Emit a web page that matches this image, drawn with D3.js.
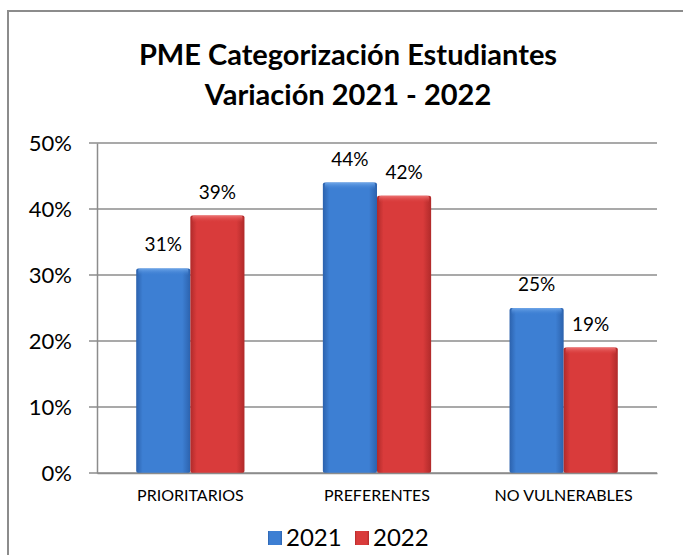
<!DOCTYPE html>
<html>
<head>
<meta charset="utf-8">
<script src="https://cdn.jsdelivr.net/npm/d3@7"></script>
<style>
  body { margin: 0; background: #fff; }
  svg { display: block; }
</style>
</head>
<body>
<div id="chart"></div>
<script>
var categories = ['PRIORITARIOS', 'PREFERENTES', 'NO VULNERABLES'];
var seriesNames = ['2021', '2022'];
var values2021 = [0.31, 0.44, 0.25];
var values2022 = [0.39, 0.42, 0.19];
var yTicks = [0, 0.1, 0.2, 0.3, 0.4, 0.5];
var titleLines = ['PME Categorización Estudiantes', 'Variación 2021 - 2022'];

var width = 683,
    height = 555,
    margin = {top: 143, right: 26, bottom: 82, left: 97},
    font = 'Lato, "Open Sans", sans-serif';

var colors = {
  '2021': {main: '#3d7fd3', dark: '#2c62ad', light: '#6fa6e8'},
  '2022': {main: '#d93b3b', dark: '#b02a2a', light: '#ec7272'}
};

var models = categories.map(function(c, i) {
  return {cat: c, '2021': values2021[i], '2022': values2022[i]};
});

var svg = d3.select('#chart').append('svg')
  .attr('width', width)
  .attr('height', height);

// gradients for the bevelled bars
var defs = svg.append('defs');
seriesNames.forEach(function(s) {
  var g = defs.append('linearGradient').attr('id', 'grad' + s)
    .attr('x1', 0).attr('x2', 1).attr('y1', 0).attr('y2', 0);
  g.append('stop').attr('offset', '0%').attr('stop-color', colors[s].dark);
  g.append('stop').attr('offset', '12%').attr('stop-color', colors[s].main);
  g.append('stop').attr('offset', '85%').attr('stop-color', colors[s].main);
  g.append('stop').attr('offset', '100%').attr('stop-color', colors[s].dark);
  var t = defs.append('linearGradient').attr('id', 'top' + s)
    .attr('x1', 0).attr('x2', 0).attr('y1', 0).attr('y2', 1);
  t.append('stop').attr('offset', '0%').attr('stop-color', colors[s].light);
  t.append('stop').attr('offset', '100%').attr('stop-color', colors[s].main).attr('stop-opacity', 0);
});

// outer frame
svg.append('rect')
  .attr('x', 8).attr('y', 11)
  .attr('width', width + 20).attr('height', height + 20)
  .attr('fill', 'none')
  .attr('stroke', '#8c8c8c')
  .attr('stroke-width', 2);

// title
svg.append('g').selectAll('text')
  .data(titleLines)
  .enter().append('text')
  .attr('x', 348)
  .attr('y', function(d, i) { return 65 + i * 40; })
  .attr('text-anchor', 'middle')
  .attr('font-family', font)
  .attr('font-weight', 'bold')
  .attr('font-size', '29px')
  .attr('fill', '#000')
  .text(function(d) { return d; });

var innerW = width - margin.left - margin.right,
    innerH = height - margin.top - margin.bottom;

var g = svg.append('g')
  .attr('transform', 'translate(' + margin.left + ',' + margin.top + ')');

var xScale0 = d3.scaleBand().domain(categories).range([0, innerW])
  .paddingInner(0.42).paddingOuter(0.21);
var xScale1 = d3.scaleBand().domain(seriesNames).range([0, xScale0.bandwidth()]);
var yScale = d3.scaleLinear().domain([0, 0.5]).range([innerH, 0]);

// gridlines
g.append('g').selectAll('line')
  .data(yTicks)
  .enter().append('line')
  .attr('x1', -8).attr('x2', innerW)
  .attr('y1', function(d) { return yScale(d); })
  .attr('y2', function(d) { return yScale(d); })
  .attr('stroke', '#8c8c8c')
  .attr('stroke-width', 1.5);

// y axis
var yAxis = d3.axisLeft(yScale).tickValues(yTicks)
  .tickFormat(d3.format('.0%')).tickSize(0).tickPadding(25);
var ya = g.append('g').call(yAxis);
ya.select('.domain').attr('stroke', '#8c8c8c').attr('stroke-width', 1.5);
ya.selectAll('text')
  .attr('font-family', font)
  .attr('font-size', '22px')
  .attr('fill', '#000');

// bars
var group = g.selectAll('.cat')
  .data(models)
  .enter().append('g')
  .attr('class', 'cat')
  .attr('transform', function(d) { return 'translate(' + xScale0(d.cat) + ',0)'; });

seriesNames.forEach(function(s) {
  var bw = xScale1.bandwidth();
  group.append('rect')
    .attr('x', xScale1(s))
    .attr('y', function(d) { return yScale(d[s]); })
    .attr('width', bw)
    .attr('height', function(d) { return innerH - yScale(d[s]); })
    .attr('rx', 2)
    .attr('fill', 'url(#grad' + s + ')');
  group.append('rect')
    .attr('x', xScale1(s) + 2)
    .attr('y', function(d) { return yScale(d[s]); })
    .attr('width', bw - 4)
    .attr('height', 7)
    .attr('rx', 2)
    .attr('fill', 'url(#top' + s + ')');
  group.append('text')
    .attr('x', xScale1(s) + bw / 2)
    .attr('y', function(d) { return yScale(d[s]) - 17; })
    .attr('text-anchor', 'middle')
    .attr('font-family', font)
    .attr('font-size', '19px')
    .attr('fill', '#000')
    .text(function(d) { return Math.round(d[s] * 100) + '%'; });
});

// x axis labels
var xAxis = d3.axisBottom(xScale0).tickSize(0).tickPadding(17);
var xa = g.append('g')
  .attr('transform', 'translate(0,' + innerH + ')')
  .call(xAxis);
xa.select('.domain').attr('stroke', '#8c8c8c').attr('stroke-width', 1.5);
xa.selectAll('text')
  .attr('font-family', font)
  .attr('font-size', '16px')
  .attr('fill', '#000');

// legend
var legend = svg.append('g').attr('transform', 'translate(268,538)');
var lx = [0, 87];
seriesNames.forEach(function(s, i) {
  var it = legend.append('g').attr('transform', 'translate(' + lx[i] + ',0)');
  it.append('rect')
    .attr('x', 0).attr('y', -7)
    .attr('width', 14).attr('height', 14)
    .attr('fill', 'url(#grad' + s + ')');
  it.append('text')
    .attr('x', 18).attr('y', 8)
    .attr('font-family', font)
    .attr('font-size', '24px')
    .attr('fill', '#000')
    .text(s);
});
</script>
</body>
</html>
